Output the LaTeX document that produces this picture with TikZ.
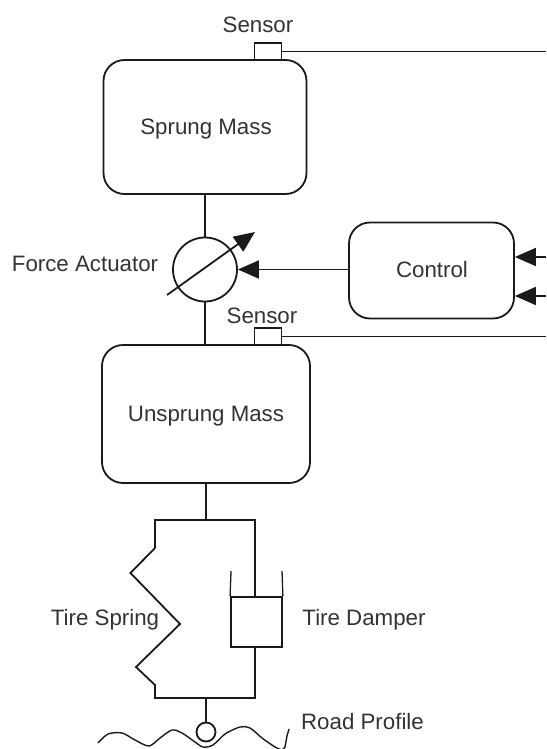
\documentclass[tikz,border=0pt]{standalone}
\usepackage{fontspec}
\setmainfont{Liberation Sans}
\usetikzlibrary{arrows.meta}
\definecolor{ink}{HTML}{1A1A1A}
\definecolor{txt}{HTML}{333333}
\tikzset{
  line/.style={draw=ink,line width=1.8pt},
  mass/.style={line,rounded corners=21pt,inner sep=0pt,fill=white},
  sensorbox/.style={line,inner sep=0pt,fill=white},
  label/.style={text=txt,font=\fontsize{22.3}{26}\selectfont,inner sep=0pt},
  headed/.style={line,-{Triangle[length=21pt,width=18pt]}}
}
\begin{document}
\begin{tikzpicture}[x=1pt,y=-1pt]
\useasboundingbox (0,0) rectangle (546,749);
\clip (0,0) rectangle (546,749);
% masses and control
\node[mass,minimum width=203pt,minimum height=134pt] (sprung) at (205,127) {};
\node[label] at (206,129) (sprungt) {Sprung Mass};
\node[mass,minimum width=208pt,minimum height=138pt] (unsprung) at (206,414) {};
\node[label] at (206,416) (unsprungt) {Unsprung Mass};
\node[mass,minimum width=165pt,minimum height=96pt] (control) at (431.5,270.5) {};
\node[label] at (432,270) (controlt) {Control};
% sensors
\node[sensorbox,minimum width=27pt,minimum height=17pt] (s1) at (268,51.5) {};
\node[sensorbox,minimum width=27pt,minimum height=17pt] (s2) at (268,336.5) {};
\node[label] at (258,25) (s1t) {Sensor};
\node[label] at (262,316) (s2t) {Sensor};
\coordinate (s1end) at (546,51.5);
\coordinate (s2end) at (546,336.5);
\draw[line] (s1.east) -- (s1end);
\draw[line] (s2.east) -- (s2end);
% actuator
\node[line,circle,minimum size=64pt,inner sep=0pt] (act) at (205,269.5) {};
\node[label] at (85,264) (actt) {Force Actuator};
\draw[line] (sprung.south -| act) -- (act.north);
\draw[line] (act.south) -- (act.south |- unsprung.north);
\coordinate (varA) at (167,295);
\coordinate (varB) at (255,232);
\draw[headed] (varA) -- (varB);
\draw[headed] (control.west |- act.east) -- (act.east);
\coordinate (in1) at (546,257);
\coordinate (in2) at (546,296);
\draw[headed] (in1) -- (control.east |- in1);
\draw[headed] (in2) -- (control.east |- in2);
% tire
\coordinate (topmid) at (206,520);
\coordinate (botmid) at (206,698);
\draw[line,line join=miter] (206,483) -- (topmid);
\draw[line] (155,548) -- (155,520) -- (255,520) -- (255,597);
\draw[line] (155,548) -- (130.5,573) -- (180,624) -- (136,667) -- (155,685) -- (155,698) -- (255,698) -- (255,647);
\node[line,inner sep=0pt,minimum width=51pt,minimum height=50pt] (cyl) at (256.5,622) {};
\coordinate (cupL) at (231,571);
\coordinate (cupR) at (282,571);
\draw[draw=ink,line width=1.3pt] (cupL) -- (cyl.north west);
\draw[draw=ink,line width=1.3pt] (cupR) -- (cyl.north east);
\node[label] at (105,620) (springt) {Tire Spring};
\node[label] at (364,620) (dampert) {Tire Damper};
% road
\node[line,circle,minimum size=19pt,inner sep=0pt] (wheel) at (206,732) {};
\draw[line] (botmid) -- (wheel.north);
\draw[draw=ink,line width=1.4pt] plot[smooth,tension=0.5] coordinates {(98,743) (108,734) (122,733) (135,740) (149,746) (160,738) (172,730) (182,733) (195,742) (203,747) (213,745) (225,734) (240,727) (250,728) (262,738) (275,747) (282,750)};
\draw[draw=ink,line width=1.4pt] (282,750) -- (285,747) -- (287,736) -- (289,729);
\node[label] at (362.5,722) (roadt) {Road Profile};
\end{tikzpicture}
\end{document}
